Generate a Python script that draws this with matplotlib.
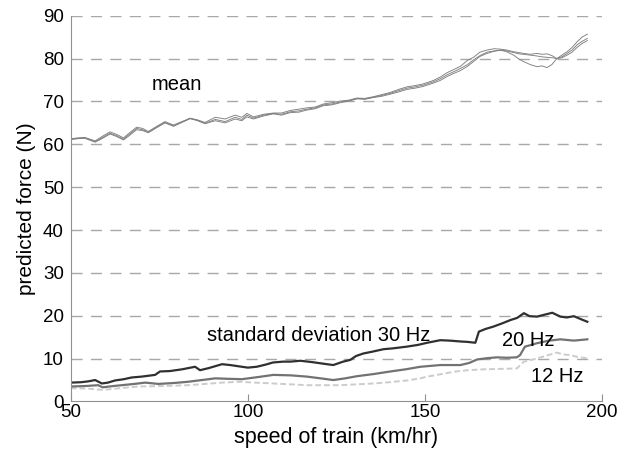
import matplotlib
matplotlib.use('Agg')
import matplotlib.pyplot as plt

plt.rcParams['font.family'] = ['Liberation Sans', 'DejaVu Sans']

# mean predicted force, three runs
mean_x = [50, 52, 54, 56.9, 59, 61.1, 63, 64.9, 66.8, 68.6,
          70.3, 71.9, 74.3, 76.6, 79, 81.4, 83.7, 85.8, 87.9, 90.8,
          93.6, 96.4, 98.3, 99.7, 101.6, 104.4, 107.2, 109.5, 112, 114.4,
          116.7, 119, 121.3, 123.7, 126.1, 128.5, 130.8, 133, 135.4, 137.8,
          140.2, 142.5, 144.9, 147.2, 149.5, 152.4, 154.3, 156.2, 158, 160,
          162, 163.7, 165.5, 167.5, 169.5, 171.3, 173, 175, 176.5, 177.8,
          179.7, 181.6, 183, 184.4, 185.8, 187.2, 188.6, 190.1, 191.5, 192.9,
          194.3, 195.8]
mean_a = [61.2, 61.4, 61.5, 60.6, 61.6, 62.6, 62.0, 61.2, 62.5, 63.7,
          63.4, 62.8, 64.0, 65.1, 64.3, 65.2, 66.0, 65.6, 64.9, 65.8,
          65.3, 66.3, 65.8, 66.8, 66.1, 66.8, 67.2, 67.0, 67.6, 67.8,
          68.2, 68.5, 69.2, 69.4, 69.9, 70.2, 70.7, 70.6, 71.0, 71.4,
          71.9, 72.5, 73.1, 73.4, 73.8, 74.6, 75.3, 76.2, 76.9, 77.7,
          78.6, 79.7, 80.7, 81.5, 81.8, 81.9, 81.8, 81.4, 81.1, 81.0,
          80.8, 80.6, 80.4, 80.3, 80.2, 80.0, 80.4, 81.2, 82.0, 83.2,
          84.0, 84.7]
mean_b = [61.3, 61.5, 61.6, 60.8, 61.9, 62.9, 62.3, 61.5, 62.8, 64.0,
          63.7, 63.0, 64.2, 65.3, 64.5, 65.3, 66.1, 65.7, 65.1, 66.3,
          65.9, 66.8, 66.3, 67.2, 66.4, 67.0, 67.3, 67.3, 67.9, 68.2,
          68.5, 68.7, 69.4, 69.7, 70.1, 70.3, 70.8, 70.7, 71.1, 71.6,
          72.1, 72.8, 73.4, 73.7, 74.1, 74.9, 75.7, 76.7, 77.4, 78.2,
          79.6, 80.3, 81.5, 82.0, 82.3, 82.2, 82.0, 81.6, 81.4, 81.2,
          81.0, 81.2, 81.0, 81.1, 80.7, 80.0, 80.8, 81.6, 82.6, 83.9,
          85.0, 85.7]
mean_c = [61.1, 61.3, 61.4, 60.5, 61.4, 62.4, 61.8, 61.0, 62.2, 63.4,
          63.2, 62.7, 63.9, 65.0, 64.2, 65.1, 66.0, 65.5, 64.8, 65.5,
          65.0, 65.9, 65.5, 66.4, 65.9, 66.6, 67.1, 66.8, 67.4, 67.5,
          68.0, 68.3, 69.0, 69.2, 69.7, 70.1, 70.6, 70.5, 70.9, 71.2,
          71.7, 72.2, 72.8, 73.1, 73.5, 74.3, 74.9, 75.8, 76.5, 77.2,
          78.2, 79.3, 80.5, 81.2, 81.7, 82.0, 81.6, 80.8, 79.9, 79.3,
          78.6, 78.1, 78.3, 77.9, 78.6, 80.0, 80.2, 80.8, 81.5, 82.6,
          83.5, 84.2]

# standard deviation at 30 Hz
x30 = [50, 53, 55, 56.9, 58.8, 60.5, 62.5, 65, 67.2, 70,
       73.8, 75.2, 78, 81.4, 85.1, 86.5, 89, 92.7, 95, 98.3,
       100, 102.5, 105, 107.1, 110, 112, 114.8, 118, 122.3, 124.1,
       126.9, 128.9, 130.5, 132.6, 135, 138.3, 141, 144.9, 148, 150.6,
       154.3, 157, 160, 162, 164.2, 165.2, 167, 169.4, 172, 174.1,
       176, 177.9, 179.5, 181.6, 183.5, 185.9, 188.2, 190, 192, 194, 195.8]
sd30 = [4.4, 4.5, 4.7, 5.0, 4.2, 4.4, 4.9, 5.2, 5.6, 5.8,
        6.2, 7.0, 7.1, 7.5, 8.1, 7.3, 7.8, 8.7, 8.5, 8.1,
        7.9, 8.1, 8.6, 9.1, 9.3, 9.3, 9.5, 9.2, 8.7, 8.5,
        9.3, 9.7, 10.6, 11.2, 11.6, 12.2, 12.4, 12.8, 13.2, 13.7,
        14.3, 14.2, 14.0, 13.9, 13.7, 16.3, 16.9, 17.5, 18.3, 19.0,
        19.5, 20.6, 19.9, 19.8, 20.2, 20.7, 19.8, 19.6, 19.9, 19.2, 18.6]

# standard deviation at 20 Hz
x20 = [50, 54, 57.8, 59, 62, 64.4, 68, 71, 74.7, 79,
       83.1, 87, 90.8, 94, 98.3, 102, 107.2, 112, 116.7, 120.5,
       124.1, 127.5, 130.8, 135.5, 140.2, 144.5, 148.7, 154.3, 160, 162.5,
       164.7, 167.5, 170.3, 173, 175.9, 176.8, 178.2, 180, 181.6, 185,
       188.2, 192, 195.8]
sd20 = [3.5, 3.6, 3.8, 3.3, 3.6, 3.8, 4.1, 4.4, 4.1, 4.3,
        4.6, 5.0, 5.4, 5.3, 5.2, 5.6, 6.2, 6.1, 5.8, 5.4,
        5.0, 5.4, 5.9, 6.4, 7.0, 7.5, 8.1, 8.5, 8.5, 9.0,
        9.8, 10.1, 10.3, 10.2, 10.3, 10.8, 12.8, 13.2, 13.6, 14.2,
        14.5, 14.2, 14.5]

# standard deviation at 12 Hz
x12 = [50, 55, 59, 64, 69.1, 76, 83.1, 88, 92.7, 97.8,
       102, 107.2, 112, 116.7, 121, 126.1, 131, 135.4, 140, 144.9,
       148.7, 150.6, 154, 158.7, 162, 166.3, 171, 175.9, 177.9, 180.5,
       183.5, 185.5, 187.2, 189, 191, 193.5, 195.8]
sd12 = [3.1, 3.0, 2.7, 3.1, 3.5, 3.6, 3.8, 4.1, 4.4, 4.6,
        4.4, 4.2, 4.0, 3.8, 3.8, 3.8, 4.0, 4.2, 4.5, 4.9,
        5.4, 5.8, 6.3, 7.0, 7.3, 7.5, 7.6, 7.7, 9.3, 9.8,
        10.5, 11.0, 11.4, 11.0, 10.8, 10.3, 10.1]

fig = plt.figure(figsize=(6.29, 4.58), dpi=100)
ax = fig.add_axes([0.1124, 0.1234, 0.845, 0.8423])

for yv in range(10, 100, 10):
    ax.axhline(yv, color='#a8a8a8', lw=1, dashes=(8, 6), zorder=0)

for m in (mean_a, mean_b, mean_c):
    ax.plot(mean_x, m, color='#7f7f7f', lw=0.65)

ax.plot(x12, sd12, color='#cccccc', lw=1.4, ls=(0, (3, 1.5)))
ax.plot(x20, sd20, color='#727272', lw=1.6)
ax.plot(x30, sd30, color='#303030', lw=1.6)

ax.text(72.9, 73.9, 'mean', fontsize=14.5, va='center')
ax.text(88.6, 15.4, 'standard deviation 30 Hz', fontsize=14.5, va='center')
ax.text(171.7, 14.3, '20 Hz', fontsize=14.5, va='center')
ax.text(179.8, 5.8, '12 Hz', fontsize=14.5, va='center')

ax.set_xlim(50, 200)
ax.set_ylim(0, 90)
ax.set_xticks([50, 100, 150, 200])
ax.set_yticks(range(0, 100, 10))
ax.tick_params(axis='x', direction='in', length=5, color='#909090', labelsize=13.5, pad=2)
ax.tick_params(axis='y', length=0, labelsize=13.5, pad=5)
for s in ('top', 'right'):
    ax.spines[s].set_visible(False)
for s in ('left', 'bottom'):
    ax.spines[s].set_color('#909090')

ax.set_xlabel('speed of train (km/hr)', fontsize=15.5, labelpad=4)
ax.set_ylabel('predicted force (N)', fontsize=15, labelpad=5)

fig.savefig('out.png', dpi=100)
